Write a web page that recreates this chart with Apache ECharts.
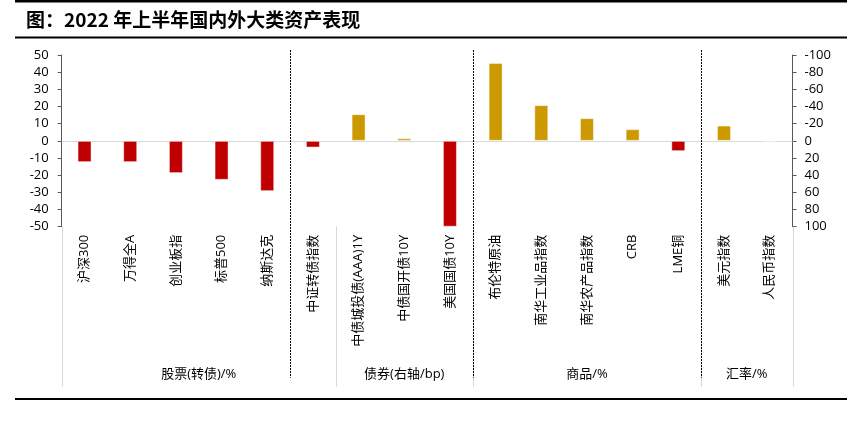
<!DOCTYPE html>
<html>
<head>
<meta charset="utf-8">
<script src="https://cdn.jsdelivr.net/npm/echarts@6/dist/echarts.min.js"></script>
<style>
html,body{margin:0;padding:0;background:#fff;}
#chart{width:865px;height:427px;}
</style>
</head>
<body>
<div id="chart"></div>
<script>
// ---- data ----
const categories = ['沪深300','万得全A','创业板指','标普500','纳斯达克','中证转债指数',
  '中债城投债(AAA)1Y','中债国开债10Y','美国国债10Y',
  '布伦特原油','南华工业品指数','南华农产品指数','CRB','LME铜',
  '美元指数','人民币指数'];
const stockValues = [-12.4, -12.4, -18.8, -22.7, -29.3, -3.9];   // %, left axis
const bondValues = [-31, -3, 100];                                // bp, right axis (inverted)
const commodityValues = [45.4, 20.8, 13.2, 6.8, -6.0];            // %, left axis
const fxValues = [8.9, -0.3];                                     // %, left axis
const groupNames = ['股票(转债)/%', '债券(右轴/bp)', '商品/%', '汇率/%'];
const groupSizes = [6, 3, 5, 2];
const dashedBoundaries = [5, 9, 14];
const leftTicks = {min: -50, max: 50, interval: 10};
const rightTicks = {min: -100, max: 100, interval: 20};

const RED = '#C00000', GOLD = '#CC9900';
const FONT = "'Open Sans', 'Noto Sans CJK SC', sans-serif";

const nStock = stockValues.length, nBond = bondValues.length;
const leftData = [], rightData = [];
categories.forEach((c, i) => {
  let lv = '-', rv = '-';
  if (i < nStock) lv = stockValues[i];
  else if (i < nStock + nBond) rv = bondValues[i - nStock];
  else if (i < nStock + nBond + commodityValues.length) lv = commodityValues[i - nStock - nBond];
  else lv = fxValues[i - nStock - nBond - commodityValues.length];
  leftData.push(lv === '-' ? '-' : {value: lv, itemStyle: {color: lv >= 0 ? GOLD : RED}});
  rightData.push(rv === '-' ? '-' : {value: rv, itemStyle: {color: rv <= 0 ? GOLD : RED}});
});

const groupData = [];
let acc = 0;
groupSizes.forEach((s, gi) => { groupData.push([acc, 0, acc + s - 1, gi]); acc += s; });

const chart = echarts.init(document.getElementById('chart'), null, {renderer: 'canvas'});

function renderGroup(params, api) {
  const start = api.value(0), end = api.value(2), gi = api.value(3);
  const band = api.size([1, 0])[0];
  const xL = api.coord([start, 0])[0] - band / 2;
  const xR = api.coord([end, 0])[0] + band / 2;
  const yB = api.coord([0, leftTicks.min])[1];
  const ls = {stroke: '#d9d9d9', lineWidth: 1};
  return {type: 'group', children: [
    {type: 'line', shape: {x1: Math.round(xL) + 0.5, y1: yB, x2: Math.round(xL) + 0.5, y2: yB + 160}, style: ls},
    {type: 'line', shape: {x1: Math.round(xR) + 0.5, y1: yB, x2: Math.round(xR) + 0.5, y2: yB + 160}, style: ls},
    {type: 'text', x: (xL + xR) / 2, y: yB + 148, style: {text: groupNames[gi], fill: '#000', font: '13px ' + FONT, align: 'center', verticalAlign: 'middle'}}
  ]};
}
function renderDashed(params, api) {
  const b = api.value(0);
  const band = api.size([1, 0])[0];
  const x = Math.round(api.coord([b, 0])[0] - band / 2) + 0.5;
  const yT = api.coord([0, leftTicks.max])[1];
  const yB = api.coord([0, leftTicks.min])[1];
  return {type: 'line', shape: {x1: x, y1: yT - 5, x2: x, y2: yB + 151},
    style: {stroke: '#000', lineWidth: 1, lineDash: [2, 1]}};
}

const option = {
  animation: false,
  title: {text: '图：2022 年上半年国内外大类资产表现', left: 26, top: 10, padding: 0,
    textStyle: {fontSize: 19, fontWeight: 'bold', color: '#000', fontFamily: "'Noto Sans CJK SC', sans-serif"}},
  graphic: [
    {type: 'rect', shape: {x: 15, y: 0, width: 832, height: 2.5}, style: {fill: '#000'}},
    {type: 'rect', shape: {x: 15, y: 36.5, width: 832, height: 2}, style: {fill: '#000'}},
    {type: 'rect', shape: {x: 15, y: 398, width: 832, height: 2}, style: {fill: '#000'}}
  ],
  grid: {left: 61.7, right: 72.5, top: 55, bottom: 200.3, containLabel: false},
  xAxis: [
    {type: 'category', data: categories, position: 'bottom',
      axisLine: {onZero: true, lineStyle: {color: '#d9d9d9', width: 1}},
      axisTick: {inside: true, length: 5, lineStyle: {color: '#c8c8c8'}},
      axisLabel: {show: false}, splitLine: {show: false}},
    {type: 'category', data: categories, position: 'bottom',
      axisLine: {show: false, onZero: false},
      axisTick: {length: 126, lineStyle: {color: '#d9d9d9'}},
      axisLabel: {rotate: 90, margin: 8, interval: 0, fontSize: 13, color: '#000', fontFamily: FONT},
      splitLine: {show: false}}
  ],
  yAxis: [
    {type: 'value', min: leftTicks.min, max: leftTicks.max, interval: leftTicks.interval, position: 'left',
      axisLine: {show: true, lineStyle: {color: '#595959'}},
      axisTick: {show: true, length: 4, lineStyle: {color: '#595959'}},
      axisLabel: {margin: 13, fontSize: 13, color: '#000', fontFamily: FONT},
      splitLine: {show: false}},
    {type: 'value', min: rightTicks.min, max: rightTicks.max, interval: rightTicks.interval, position: 'right', inverse: true,
      axisLine: {show: true, lineStyle: {color: '#595959'}},
      axisTick: {show: true, length: 4, lineStyle: {color: '#595959'}},
      axisLabel: {margin: 12, fontSize: 13, color: '#000', fontFamily: FONT},
      splitLine: {show: false}}
  ],
  series: [
    {type: 'bar', xAxisIndex: 0, yAxisIndex: 0, data: leftData, barWidth: 14, barGap: '-100%',
      itemStyle: {borderColor: 'rgba(255,255,255,0.45)', borderWidth: 1}},
    {type: 'bar', xAxisIndex: 0, yAxisIndex: 1, data: rightData, barWidth: 14, barGap: '-100%',
      itemStyle: {borderColor: 'rgba(255,255,255,0.45)', borderWidth: 1}},
    {type: 'custom', xAxisIndex: 0, yAxisIndex: 0, renderItem: renderGroup, data: groupData,
      encode: {x: 0, y: 1}, clip: false, silent: true, z: 5},
    {type: 'custom', xAxisIndex: 0, yAxisIndex: 0, renderItem: renderDashed,
      data: dashedBoundaries.map(b => [b, 0]), encode: {x: 0, y: 1}, clip: false, silent: true, z: 6}
  ]
};
chart.setOption(option);
</script>
</body>
</html>
